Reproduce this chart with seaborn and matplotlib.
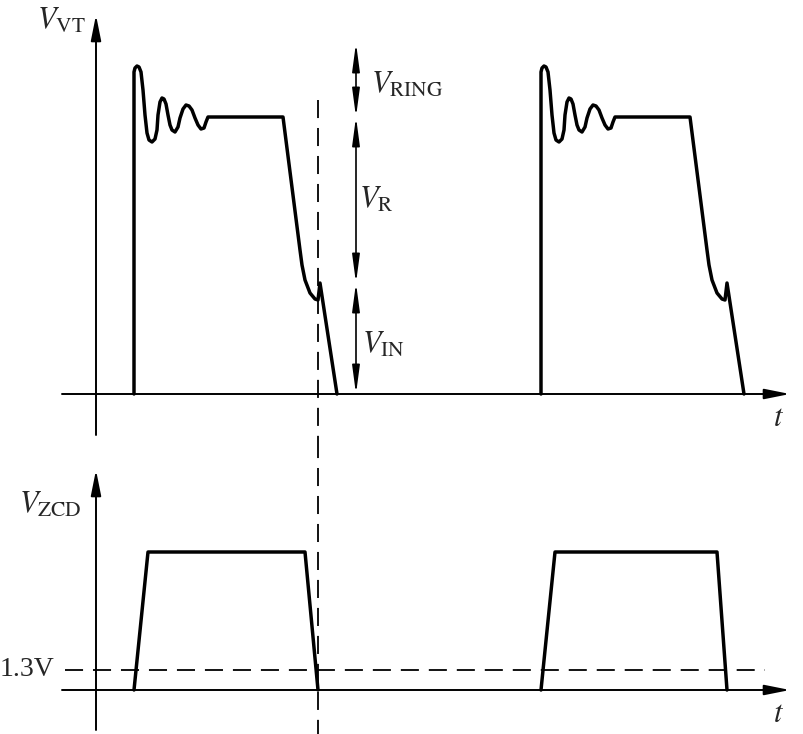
import numpy as np
import pandas as pd
import matplotlib
matplotlib.use("Agg")
import matplotlib.pyplot as plt
import seaborn as sns

# ------------ Data (time and voltage in arbitrary units) ------------
PERIOD = 40.7

# one switching cycle of the drain voltage V_VT (ringing, flat V_IN+V_R, valley)
vt_t = [3.8, 3.8, 3.9, 4.1, 4.3, 4.5, 4.7, 4.9, 5.1, 5.3, 5.6, 5.9, 6.1, 6.2,
        6.4, 6.6, 6.8, 7.0, 7.2, 7.4, 7.6, 7.9, 8.2, 8.4, 8.7, 9.0, 9.3, 9.6,
        9.9, 10.2, 10.5, 10.8, 11.0, 11.2, 18.7, 20.4, 20.6, 20.9, 21.4, 21.9,
        22.2, 22.4, 24.1]
vt_v = [0.0, 32.2, 32.6, 32.8, 32.7, 32.2, 30.4, 27.9, 26.1, 25.4, 25.2, 25.5,
        26.4, 27.9, 29.2, 29.6, 29.5, 29.0, 27.9, 26.9, 26.4, 26.2, 26.7, 27.6,
        28.5, 28.9, 28.8, 28.4, 27.6, 26.9, 26.5, 26.6, 27.2, 27.7, 27.7, 14.4,
        12.9, 11.4, 10.1, 9.5, 9.4, 11.1, 0.0]

# ZCD pulses
zcd1_t = [3.8, 5.2, 20.9, 22.2]
zcd2_t = [44.5, 45.9, 62.1, 63.1]
zcd_v = [0.0, 13.8, 13.8, 0.0]

V_THRESH = 2.0          # 1.3 V level
V_FLAT = 27.7           # V_IN + V_R
V_IN = 11.1
V_TOP = 35.1            # V_IN + V_R + V_RING
T_MARK = 22.2           # dashed vertical line
T_ARROW = 26.0          # dimension arrow

# ------------ Figure ------------
sns.set_style("white")
plt.rcParams["mathtext.fontset"] = "stix"
plt.rcParams["font.family"] = ["Liberation Serif", "DejaVu Serif"]

fig = plt.figure(figsize=(8.04, 7.34), dpi=100)
ax1 = fig.add_axes([0, 294 / 734, 1, 440 / 734])
ax2 = fig.add_axes([0, 0, 1, 294 / 734])
ax1.set_xlim(-9.6, 70.8)
ax1.set_ylim(-4.6, 39.4)
ax2.set_xlim(-9.6, 70.8)
ax2.set_ylim(-4.4, 25.0)
for ax in (ax1, ax2):
    ax.set_axis_off()

k = "black"
lw_wave = 2.5
lw_axis = 1.4
dash = (0, (10, 5.5))
FS = 22


def axis_arrow(ax, start, end, lw=lw_axis):
    ax.annotate("", xy=end, xytext=start,
                arrowprops=dict(arrowstyle="-|>,head_length=1.1,head_width=0.22",
                                color=k, lw=lw, shrinkA=0, shrinkB=0,
                                mutation_scale=14))


def dim_arrow(ax, x, y0, y1):
    ax.annotate("", xy=(x, y1), xytext=(x, y0),
                arrowprops=dict(arrowstyle="<|-|>,head_length=1.2,head_width=0.16",
                                color=k, lw=1.2, shrinkA=0, shrinkB=0,
                                mutation_scale=14))


# ---- top: V_VT ----
df_vt = pd.DataFrame({
    "t": vt_t + [t + PERIOD for t in vt_t],
    "v": vt_v + vt_v,
    "cycle": [0] * len(vt_t) + [1] * len(vt_t),
})
sns.lineplot(data=df_vt, x="t", y="v", units="cycle", estimator=None,
             sort=False, color=k, lw=lw_wave, ax=ax1, legend=False)

axis_arrow(ax1, (-3.4, 0), (69.4, 0))
axis_arrow(ax1, (0, -4.1), (0, 37.9))
ax1.text(-3.5, 37.3, r"$V_{\mathrm{VT}}$", fontsize=FS, ha="center", va="center")
ax1.text(68.3, -2.4, r"$t$", fontsize=FS, ha="center", va="center")

dim_arrow(ax1, T_ARROW, V_FLAT, V_TOP)
dim_arrow(ax1, T_ARROW, V_IN, V_FLAT)
dim_arrow(ax1, T_ARROW, 0, V_IN)
ax1.text(27.5, 30.9, r"$V_{\mathrm{RING}}$", fontsize=FS, ha="left", va="center")
ax1.text(26.3, 19.4, r"$V_{\mathrm{R}}$", fontsize=FS, ha="left", va="center")
ax1.text(26.6, 4.9, r"$V_{\mathrm{IN}}$", fontsize=FS, ha="left", va="center")

ax1.plot([T_MARK, T_MARK], [29.4, -4.6], color=k, lw=1.3, ls=dash)

# ---- bottom: V_ZCD ----
df_zcd = pd.DataFrame({
    "t": zcd1_t + zcd2_t,
    "v": zcd_v + zcd_v,
    "pulse": [0] * 4 + [1] * 4,
})
sns.lineplot(data=df_zcd, x="t", y="v", units="pulse", estimator=None,
             sort=False, color=k, lw=lw_wave, ax=ax2, legend=False)

axis_arrow(ax2, (-3.4, 0), (69.4, 0))
axis_arrow(ax2, (0, -4.0), (0, 22.0))
ax2.plot([-3.1, 66.9], [V_THRESH, V_THRESH], color=k, lw=1.3, ls=dash)
ax2.text(-4.6, 18.5, r"$V_{\mathrm{ZCD}}$", fontsize=FS, ha="center", va="center")
ax2.text(-4.2, V_THRESH, "1.3V", fontsize=20, ha="right", va="center")
ax2.text(68.3, -2.5, r"$t$", fontsize=FS, ha="center", va="center")
ax2.plot([T_MARK, T_MARK], [25.0, -4.4], color=k, lw=1.3, ls=dash)

fig.savefig("out.png", dpi=100, facecolor="white")
